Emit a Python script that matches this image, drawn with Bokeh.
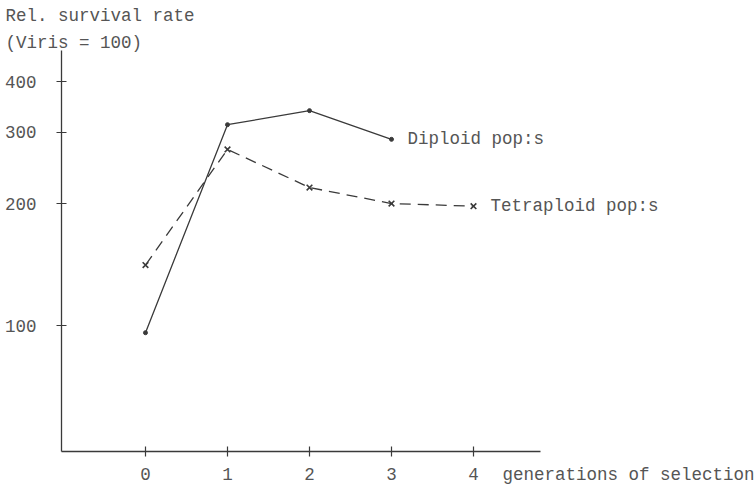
from bokeh.plotting import figure
from bokeh.models import Label, FixedTicker, Range1d, LinearAxis, LogAxis
from bokeh.embed import file_html
from bokeh.resources import INLINE

generations = [0, 1, 2, 3, 4]
diploid_x = [0, 1, 2, 3]
diploid_y = [96, 313, 339, 288]
tetra_x = [0, 1, 2, 3, 4]
tetra_y = [141, 272, 219, 200, 197]
y_ticks = [100, 200, 300, 400]
y_tick_labels = ["100", "200", "300", "400"]
x_tick_labels = ["0", "1", "2", "3", "4"]
diploid_name = "Diploid pop:s"
tetra_name = "Tetraploid pop:s"
x_title = "generations of selection"
y_title_1 = "Rel. survival rate"
y_title_2 = "(Viris = 100)"

# visible canvas ranges and axis extents
view_x = (-1.768, 7.451)
view_y = (40.07, 633.8)
axis_x = (-1.024, 4.82)
axis_y = (48.9, 477)

FONT = "Liberation Mono"
INK = "#3a3a3a"
TXT = "#555555"
FS = "17.5px"

p = figure(width=756, height=486, output_backend="svg", y_axis_type="log",
           toolbar_location=None, x_range=Range1d(*view_x),
           y_range=Range1d(*view_y),
           x_axis_location=None, y_axis_location=None,
           min_border=0, min_border_left=0, min_border_right=0,
           min_border_top=0, min_border_bottom=0)
p.outline_line_color = None
p.grid.visible = False
p.background_fill_color = "white"
p.border_fill_color = "white"

xax = LinearAxis(fixed_location=axis_y[0], bounds=axis_x)
yax = LogAxis(fixed_location=axis_x[0], bounds=axis_y)
p.add_layout(xax, "below")
p.add_layout(yax, "left")

for ax in (xax, yax):
    ax.axis_line_color = INK
    ax.axis_line_width = 1.3
    ax.major_tick_line_color = INK
    ax.major_tick_line_width = 1.2
    ax.major_tick_in = 5
    ax.major_tick_out = 5
    ax.minor_tick_line_color = None
    ax.major_label_text_font = FONT
    ax.major_label_text_font_size = FS
    ax.major_label_text_color = TXT

xax.ticker = FixedTicker(ticks=generations)
xax.major_label_overrides = {g: t for g, t in zip(generations, x_tick_labels)}
xax.major_label_standoff = 12
yax.ticker = FixedTicker(ticks=y_ticks)
yax.major_label_overrides = {v: t for v, t in zip(y_ticks, y_tick_labels)}
yax.major_label_standoff = 20

p.line(diploid_x, diploid_y, line_color=INK, line_width=1.3)
p.scatter(diploid_x, diploid_y, marker="circle", size=4, color=INK)
p.line(tetra_x, tetra_y, line_color=INK, line_width=1.3, line_dash="11 7")
p.scatter(tetra_x, tetra_y, marker="x", size=8, line_color=INK, line_width=1.6)

def lab(x, y, text, xo, yo):
    p.add_layout(Label(x=x, y=y, text=text, x_offset=xo, y_offset=yo,
                       text_font=FONT, text_font_size=FS, text_color=TXT,
                       text_baseline="middle", text_align="left"))

lab(diploid_x[-1], diploid_y[-1], diploid_name, 16, 0)
lab(tetra_x[-1], tetra_y[-1], tetra_name, 17, 0)
lab(generations[-1], axis_y[0], x_title, 29, -24)
lab(axis_x[0], axis_y[1], y_title_1, -56, 35)
lab(axis_x[0], axis_y[1], y_title_2, -56, 8)

open("out.html", "w").write(file_html(p, INLINE))
